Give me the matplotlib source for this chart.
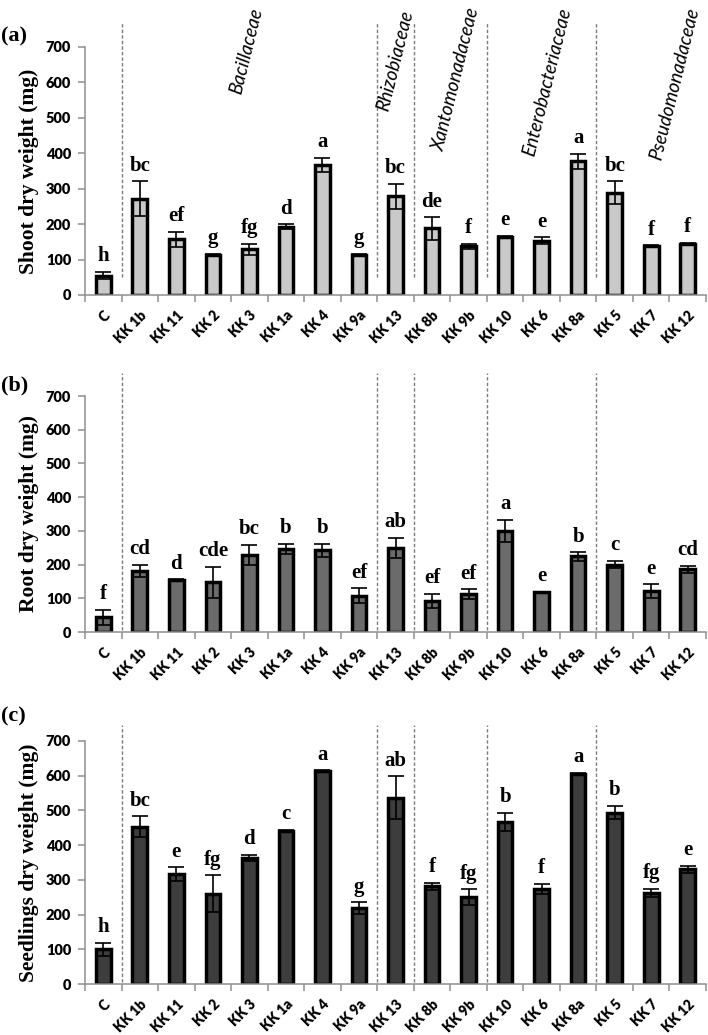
import matplotlib
matplotlib.use("Agg")
import matplotlib.pyplot as plt
from matplotlib.transforms import ScaledTranslation

# ---------------- data ----------------
categories = ["C", "KK 1b", "KK 11", "KK 2", "KK 3", "KK 1a", "KK 4", "KK 9a", "KK 13",
              "KK 8b", "KK 9b", "KK 10", "KK 6", "KK 8a", "KK 5", "KK 7", "KK 12"]

shoot = [55, 272, 157, 114, 129, 193, 368, 114, 279, 188, 138, 165, 153, 377, 289, 138, 144]
shoot_err = [10, 49, 21, 2, 16, 7, 20, 2, 35, 32, 7, 2, 10, 21, 32, 2, 3]
shoot_letters = ["h", "bc", "ef", "g", "fg", "d", "a", "g", "bc", "de", "f", "e", "e", "a", "bc", "f", "f"]

root = [44, 182, 155, 147, 228, 246, 242, 108, 250, 92, 112, 300, 118, 224, 200, 121, 186]
root_err = [22, 18, 2, 47, 30, 15, 20, 22, 30, 22, 15, 33, 2, 12, 11, 20, 11]
root_letters = ["f", "cd", "d", "cde", "bc", "b", "b", "ef", "ab", "ef", "ef", "a", "e", "b", "c", "e", "cd"]

seedlings = [100, 453, 316, 260, 364, 442, 614, 219, 536, 282, 250, 467, 274, 606, 494, 263, 330]
seedlings_err = [18, 30, 20, 53, 9, 3, 2, 17, 62, 10, 23, 27, 14, 3, 20, 11, 10]
seedlings_letters = ["h", "bc", "e", "fg", "d", "c", "a", "g", "ab", "f", "fg", "b", "f", "a", "b", "fg", "e"]

families = ["Bacillaceae", "Rhizobiaceae", "Xantomonadaceae", "Enterobacteriaceae", "Pseudomonadaceae"]
family_first_index = [1, 8, 9, 11, 14]   # first category of each family

panel_tags = ["(a)", "(b)", "(c)"]
ylabels = ["Shoot dry weight (mg)", "Root dry weight (mg)", "Seedlings dry weight (mg)"]
yticks = [0, 100, 200, 300, 400, 500, 600, 700]

# ---------------- figure ----------------
W, H = 708, 1035
fig = plt.figure(figsize=(W / 100, H / 100), dpi=100)

def rect(left_px, right_px, top_px, bottom_px):
    return [left_px / W, 1 - bottom_px / H, (right_px - left_px) / W, (bottom_px - top_px) / H]

panels = [
    dict(rect=rect(85, 706, 47, 295), vals=shoot, errs=shoot_err, letters=shoot_letters,
         color="#c9c9c9", tag_y=36, dash=(50, 770)),
    dict(rect=rect(85, 706, 396, 632), vals=root, errs=root_err, letters=root_letters,
         color="#6b6b6b", tag_y=385, dash=(6, 768)),
    dict(rect=rect(85, 706, 741, 984), vals=seedlings, errs=seedlings_err, letters=seedlings_letters,
         color="#3d3d3d", tag_y=716, dash=(6, 746)),
]

spine_col = "#8f8f8f"
x = list(range(len(categories)))
axes = []
for i, p in enumerate(panels):
    ax = fig.add_axes(p["rect"])
    axes.append(ax)
    ax.bar(x, p["vals"], width=0.4, color=p["color"], edgecolor="black", linewidth=2.5, zorder=2)
    ax.errorbar(x, p["vals"], yerr=p["errs"], fmt="none", ecolor="black", elinewidth=1.2,
                capsize=5.5, capthick=1.2, zorder=3)
    for xi, v, e, lab in zip(x, p["vals"], p["errs"], p["letters"]):
        ax.annotate(lab, (xi, v + e), xytext=(0, 4), textcoords="offset points",
                    ha="center", va="bottom", fontsize=15, fontweight="bold",
                    family="Liberation Serif", zorder=4)
    ax.set_xlim(-0.5, len(categories) - 0.5)
    ax.set_ylim(0, 700)
    ax.set_yticks(yticks)
    ax.set_yticklabels([str(t) for t in yticks], fontsize=10.5, fontweight="heavy", family="Lato")
    ax.set_xticks(x)
    ax.set_xticklabels(categories, rotation=45, ha="right", va="center", rotation_mode="anchor",
                       fontsize=10, fontweight="heavy", family="Lato")
    ax.set_xticks([k - 0.5 for k in range(len(categories) + 1)], minor=True)
    ax.tick_params(axis="x", which="major", length=0, pad=13)
    ax.tick_params(axis="x", which="minor", length=5, width=1.1, color=spine_col, direction="out")
    ax.tick_params(axis="y", length=5, width=1.1, color=spine_col, direction="out", pad=5)
    off = ScaledTranslation(3.5 / 72, 0, fig.dpi_scale_trans)
    for lbl in ax.get_xticklabels():
        lbl.set_transform(lbl.get_transform() + off)
    for s in ["top", "right"]:
        ax.spines[s].set_visible(False)
    for s in ["left", "bottom"]:
        ax.spines[s].set_color(spine_col)
        ax.spines[s].set_linewidth(1.1)
    ax.set_ylabel(ylabels[i], fontsize=15.5, fontweight="bold", family="Liberation Serif", labelpad=5)
    # family dividers
    for fi in family_first_index:
        ax.plot([fi - 0.5, fi - 0.5], list(p["dash"]), color="#7a7a7a", lw=1.0,
                dashes=(2.4, 1.6), clip_on=False, zorder=1)
    fig.text(1 / W, 1 - p["tag_y"] / H, panel_tags[i], fontsize=16, fontweight="bold",
             family="Liberation Serif", ha="left", va="center")

# family names on top panel
fam_pos = [(3.91, 690), (7.99, 660), (9.66, 608), (12.15, 602), (15.65, 597)]
for name, (fx, fy) in zip(families, fam_pos):
    axes[0].text(fx, fy, name, rotation=76, rotation_mode="anchor", ha="center", va="center",
                 fontsize=13.5, fontstyle="italic", family="Lato", clip_on=False)

fig.savefig("out.png", dpi=100)
